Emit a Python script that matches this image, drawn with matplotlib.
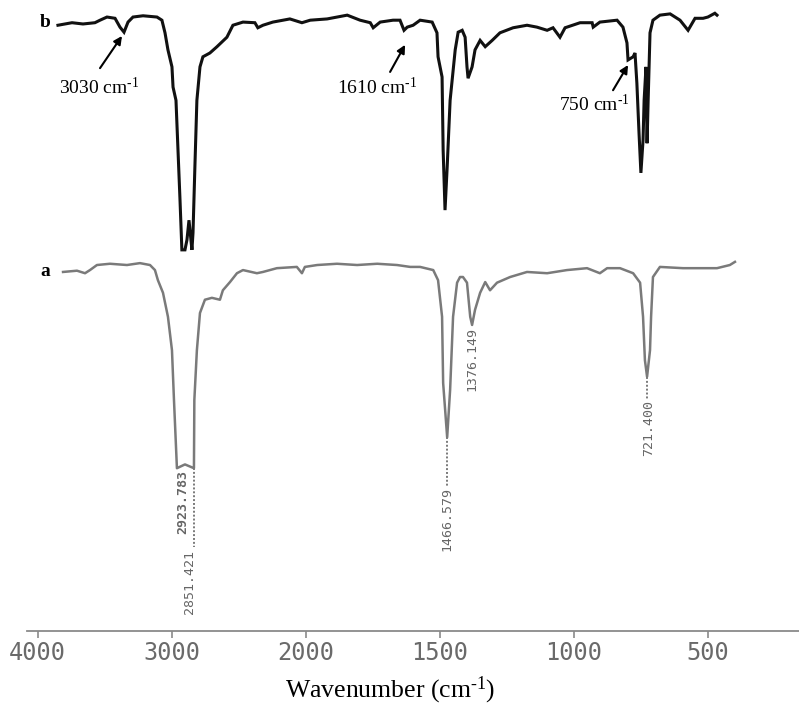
import numpy as np
import matplotlib
matplotlib.use('Agg')
import matplotlib.pyplot as plt

plt.rcParams['mathtext.fontset'] = 'custom'
plt.rcParams['mathtext.rm'] = 'Liberation Serif'
plt.rcParams['mathtext.it'] = 'Liberation Serif:italic'

# Espectro b (arriba) - numero de onda y transmitancia relativa (apilada)
b_wn = [3849, 3744, 3662, 3573, 3535, 3483, 3423, 3386, 3356, 3326, 3289, 3214, 3110, 3073,
        3050, 3028, 2998, 2990, 2968, 2953, 2938, 2924, 2901, 2886, 2871, 2849, 2841, 2827,
        2812, 2789, 2767, 2715, 2662, 2588, 2543, 2468, 2379, 2357, 2319, 2245, 2118, 2028,
        1983, 1920, 1845, 1797, 1759, 1748, 1722, 1674, 1648, 1633, 1621, 1599, 1573, 1528,
        1510, 1506, 1491, 1487, 1480, 1472, 1461, 1442, 1431, 1416, 1405, 1398, 1394, 1379,
        1368, 1349, 1330, 1304, 1275, 1226, 1174, 1137, 1099, 1077, 1051, 1032, 976, 931,
        927, 902, 838, 816, 801, 797, 778, 771, 764, 756, 749, 741, 737, 730, 726, 722,
        715, 704, 678, 640, 603, 573, 547, 517, 499, 473, 465]
b_t = [96.0, 96.4, 96.2, 96.4, 96.8, 97.3, 97.1, 95.7, 94.9, 96.5, 97.3, 97.5, 97.3, 96.8,
       94.8, 92.1, 89.4, 86.2, 84.1, 76.2, 68.3, 60.4, 60.4, 62.0, 65.1, 60.4, 63.1, 73.5,
       84.1, 89.4, 91.0, 91.6, 92.6, 94.1, 96.0, 96.5, 96.4, 95.6, 96.0, 96.5, 97.0, 96.4,
       96.8, 97.0, 97.6, 96.8, 96.4, 95.6, 96.5, 96.8, 96.8, 95.2, 95.7, 96.0, 96.8, 96.5,
       94.8, 91.0, 87.8, 76.2, 66.7, 73.5, 84.1, 92.1, 94.9, 95.2, 94.1, 89.4, 87.6, 89.4,
       92.1, 93.6, 92.6, 93.6, 94.8, 95.6, 96.0, 95.7, 95.2, 95.6, 94.1, 95.6, 96.4, 96.4,
       95.7, 96.5, 96.8, 95.7, 93.2, 90.5, 91.0, 91.6, 86.8, 78.9, 72.6, 77.8, 84.1, 89.4,
       77.3, 84.1, 94.8, 96.8, 97.6, 97.8, 96.8, 95.2, 97.1, 97.1, 97.3, 97.9, 97.6]

# Espectro a (abajo)
a_wn = [3811, 3707, 3647, 3610, 3558, 3461, 3334, 3237, 3162, 3125, 3103, 3065, 3028, 2998,
        2983, 2961, 2901, 2834, 2831, 2812, 2789, 2752, 2700, 2640, 2618, 2565, 2513, 2468,
        2364, 2319, 2215, 2066, 2028, 2006, 1957, 1883, 1808, 1733, 1659, 1610, 1573, 1524,
        1506, 1491, 1487, 1472, 1461, 1450, 1435, 1424, 1413, 1398, 1386, 1379, 1368, 1349,
        1330, 1312, 1286, 1237, 1174, 1099, 1025, 950, 902, 875, 827, 778, 752, 741,
        734, 726, 715, 711, 704, 678, 592, 465, 417, 398]
a_t = [56.9, 57.1, 56.7, 57.2, 58.0, 58.2, 58.0, 58.3, 58.0, 57.2, 55.6, 53.6, 49.8, 44.5,
       36.6, 25.8, 26.4, 25.8, 36.6, 44.5, 50.4, 52.5, 52.8, 52.5, 54.0, 55.3, 56.7, 57.2,
       56.7, 56.9, 57.5, 57.7, 56.7, 57.7, 58.0, 58.2, 58.0, 58.2, 58.0, 57.7, 57.7, 57.2,
       55.6, 49.8, 39.3, 30.7, 38.2, 49.8, 55.2, 56.1, 56.1, 55.2, 49.8, 48.5, 50.9, 53.6,
       55.3, 54.0, 55.2, 56.1, 56.9, 56.7, 57.2, 57.5, 56.7, 57.5, 57.5, 56.7, 55.2, 49.8,
       42.9, 40.3, 44.5, 49.8, 56.1, 57.7, 57.5, 57.5, 58.0, 58.5]

# Etiquetas de picos del espectro a
peak_labels = ['2923.783', '2851.421', '1466.579', '1376.149', '721.400']
peak_wn = [2916, 2864, 1472, 1379, 722]
peak_top = [25.5, 12.8, 22.8, 48.2, 36.6]
peak_bold = [True, False, False, False, False]
# lineas guia (numero de onda, y inicio, y fin)
leader_wn = [2834, 1472, 726]
leader_y0 = [25.8, 30.7, 40.3]
leader_y1 = [13.3, 22.8, 36.6]

# Flechas del espectro b
ann_text = ['3030 cm$^{\\text{-}1}$', '1610 cm$^{\\text{-}1}$', '750 cm$^{\\text{-}1}$']
ann_tip = [(3371, 94.3), (1629, 92.9), (797, 89.7)]
ann_tail = [(3535, 89.2), (1685, 88.6), (853, 85.7)]
ann_pos = [(3543, 86.1), (1733, 86.1), (924, 83.4)]

tick_wn = [4000, 3000, 2000, 1500, 1000, 500]
tick_labels = ['4000', '3000', '2000', '1500', '1000', '500']


def fwd(w):
    w = np.asarray(w, dtype=float)
    return np.where(w >= 2000, w, 2 * w - 2000)


def inv(u):
    u = np.asarray(u, dtype=float)
    return np.where(u >= 2000, u, (u + 2000) / 2)


fig = plt.figure(figsize=(7.99, 7.15), dpi=100)
ax = fig.add_axes([27 / 799, 84 / 715, 772 / 799, 631 / 715])
ax.set_xscale('function', functions=(fwd, inv))
ax.set_xlim(4080, 159)
ax.set_ylim(0, 100)

ax.plot(b_wn, b_t, color='#111111', lw=2.2, solid_joinstyle='miter')
ax.plot(a_wn, a_t, color='#7a7a7a', lw=1.8)

ax.text(3946, 96.4, 'b', fontfamily='Liberation Serif', fontsize=14, fontweight='bold',
        ha='center', va='center')
ax.text(3946, 56.9, 'a', fontfamily='Liberation Serif', fontsize=14, fontweight='bold',
        ha='center', va='center')

for w, y0, y1 in zip(leader_wn, leader_y0, leader_y1):
    ax.plot([w, w], [y0, y1], color='#7a7a7a', lw=1.4, ls=(0, (1, 1)))

for lab, w, top, bold in zip(peak_labels, peak_wn, peak_top, peak_bold):
    ax.text(w, top, lab, rotation=90, ha='center', va='top',
            fontfamily='DejaVu Sans Mono', fontsize=9.5, color='#666666',
            fontweight='bold' if bold else 'normal')

for txt, tip, tail, pos in zip(ann_text, ann_tip, ann_tail, ann_pos):
    ax.annotate('', xy=tip, xytext=tail,
                arrowprops=dict(arrowstyle='-|>', color='black', lw=1.5,
                                mutation_scale=12, shrinkA=0, shrinkB=0))
    ax.text(pos[0], pos[1], txt, fontfamily='Liberation Serif', fontsize=14,
            ha='center', va='center')

for side in ['left', 'right', 'top']:
    ax.spines[side].set_visible(False)
ax.spines['bottom'].set_color('#8a8a8a')
ax.spines['bottom'].set_linewidth(1.3)
ax.set_yticks([])
ax.set_xticks(tick_wn)
ax.set_xticklabels(tick_labels, fontfamily='DejaVu Sans Mono', fontsize=17, color='#6a6a6a')
ax.tick_params(axis='x', direction='out', length=5, width=1.2, color='#8a8a8a', pad=2)

ax.set_xlabel('Wavenumber (cm$^{\\text{-}1}$)', fontfamily='Liberation Serif', fontsize=18.5)
ax.xaxis.label.set_va('center')
ax.xaxis.set_label_coords(0.470, -0.0935)

plt.savefig('out.png', dpi=100)
